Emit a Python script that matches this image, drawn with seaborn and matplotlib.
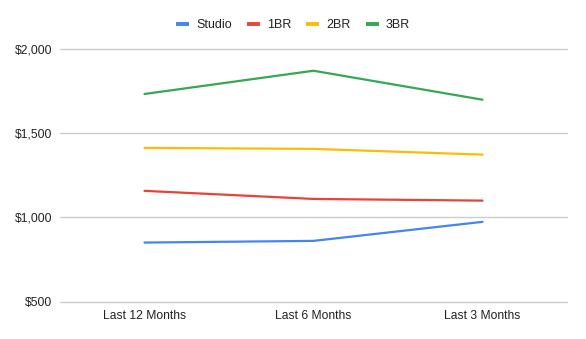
import matplotlib
matplotlib.use("Agg")
import matplotlib.pyplot as plt
import seaborn as sns
import pandas as pd
from matplotlib.ticker import FuncFormatter

periods = ["Last 12 Months", "Last 6 Months", "Last 3 Months"]
studio = [851, 861, 974]
one_br = [1158, 1110, 1100]
two_br = [1413, 1407, 1373]
three_br = [1733, 1871, 1699]
series_names = ["Studio", "1BR", "2BR", "3BR"]
colors = ["#4285F4", "#EA4335", "#FBBC04", "#34A853"]

rows = []
for name, vals in zip(series_names, [studio, one_br, two_br, three_br]):
    for i, (p, v) in enumerate(zip(periods, vals)):
        rows.append({"period": p, "idx": i, "unit": name, "rent": v})
df = pd.DataFrame(rows)

sns.set_theme(style="white")
plt.rcParams["font.family"] = ["Liberation Sans", "DejaVu Sans"]

fig = plt.figure(figsize=(5.86, 3.39), dpi=100)
ax = fig.add_axes([60 / 586, 1 - 301.7 / 339, 507 / 586, (301.7 - 49) / 339])

sns.lineplot(data=df, x="idx", y="rent", hue="unit", hue_order=series_names,
             palette=colors, linewidth=1.6, ax=ax, legend=False, zorder=3)

ax.set_xlim(-0.5, 2.5)
ax.set_ylim(500, 2000)
ax.set_yticks([500, 1000, 1500, 2000])
ax.yaxis.set_major_formatter(FuncFormatter(lambda v, _: f"${v:,.0f}"))
ax.set_xticks(range(len(periods)))
ax.set_xticklabels(periods)
ax.set_xlabel("")
ax.set_ylabel("")
for s in ax.spines.values():
    s.set_visible(False)
ax.grid(axis="y", color="#cccccc", linewidth=1)
for gl in ax.get_ygridlines():
    gl.set_clip_on(False)
ax.tick_params(axis="both", length=0, labelsize=8.7, colors="#222222")
ax.tick_params(axis="y", pad=5.5)
ax.tick_params(axis="x", pad=6)

handles = [plt.Line2D([], [], color=c, linewidth=2.8, solid_capstyle="butt") for c in colors]
fig.legend(handles, series_names, loc="center", bbox_to_anchor=(0.5, 1 - 25.5 / 339),
           ncol=4, frameon=False, fontsize=9, handlelength=1.04, handletextpad=0.56,
           columnspacing=1.2, labelcolor="#222222")

fig.savefig("out.png", dpi=100)
